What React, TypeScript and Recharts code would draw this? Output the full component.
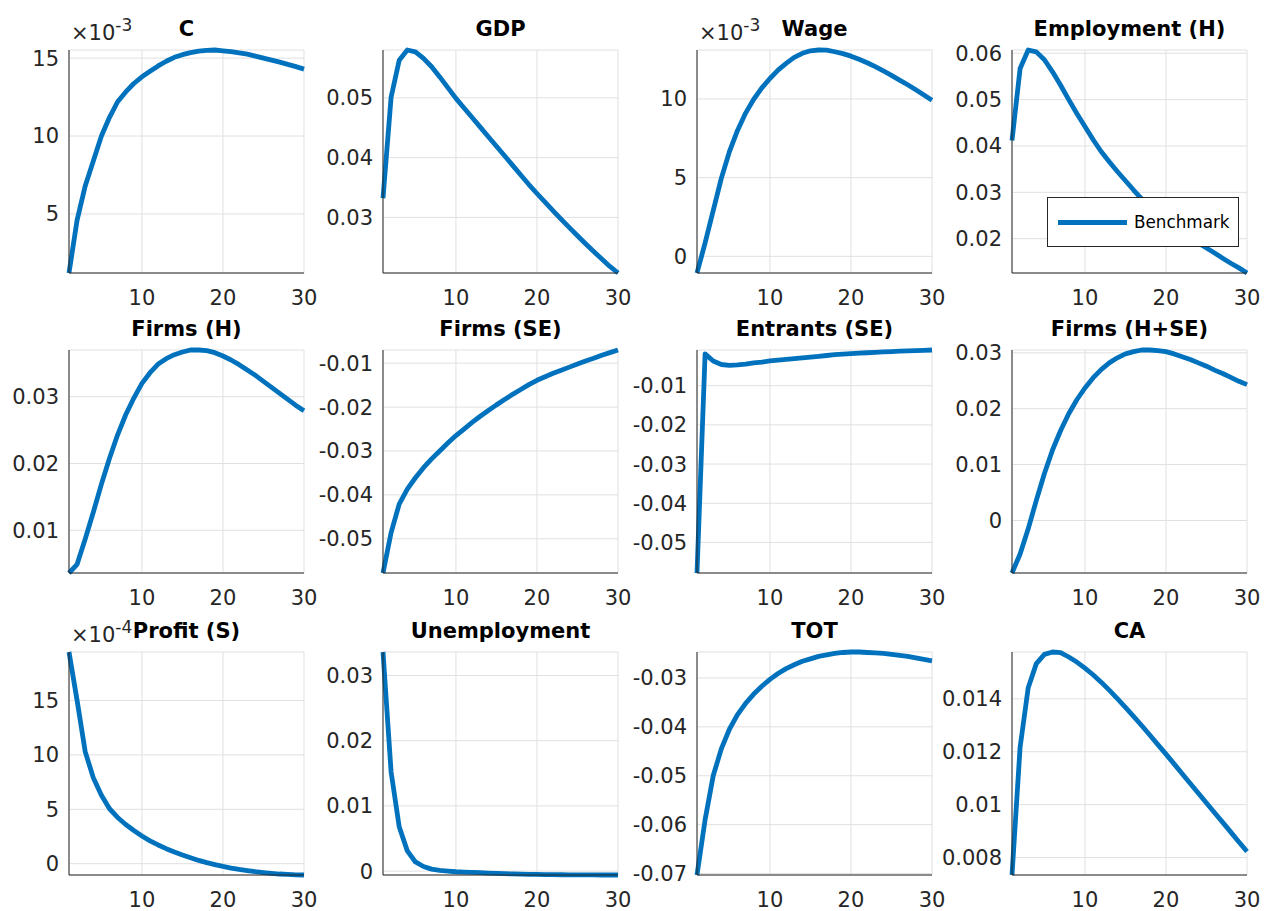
import { LineChart, Line, XAxis, YAxis, CartesianGrid } from 'recharts'

// impulse responses, periods 1..30
const periods = [1, 2, 3, 4, 5, 6, 7, 8, 9, 10, 11, 12, 13, 14, 15, 16, 17, 18, 19, 20, 21, 22, 23, 24, 25, 26, 27, 28, 29, 30]

const consumption = [0.00121, 0.0046, 0.0068, 0.0084, 0.0100, 0.0112, 0.0122, 0.01283, 0.01337, 0.0138, 0.01415, 0.0145, 0.0148, 0.01505, 0.01522, 0.01535, 0.01545, 0.0155, 0.01552, 0.01547, 0.01542, 0.01534, 0.01525, 0.01513, 0.0150, 0.01487, 0.01474, 0.0146, 0.01445, 0.01429]
const gdp = [0.0332, 0.0501, 0.0563, 0.0580, 0.0577, 0.0566, 0.0552, 0.0535, 0.0517, 0.0499, 0.0483, 0.0467, 0.0451, 0.0435, 0.0419, 0.0403, 0.0387, 0.0371, 0.0355, 0.0340, 0.03254, 0.0311, 0.02968, 0.02829, 0.02693, 0.0256, 0.0243, 0.02303, 0.0218, 0.0207]
const wage = [-0.00106, 0.00085, 0.0029, 0.00495, 0.00665, 0.0080, 0.0091, 0.00998, 0.0107, 0.0113, 0.01183, 0.01226, 0.01264, 0.0129, 0.01306, 0.01311, 0.0131, 0.0130, 0.01288, 0.01272, 0.01252, 0.0123, 0.01205, 0.01178, 0.0115, 0.0112, 0.0109, 0.01058, 0.01025, 0.00992]
const employment = [0.0412, 0.0567, 0.0607, 0.0603, 0.0586, 0.0560, 0.0531, 0.0500, 0.0470, 0.0442, 0.0414, 0.0388, 0.0366, 0.0345, 0.0325, 0.0305, 0.0286, 0.0270, 0.0255, 0.0241, 0.0228, 0.0215, 0.0203, 0.0191, 0.0180, 0.0169, 0.0158, 0.0147, 0.0137, 0.0126]
const firmsH = [0.0036, 0.0049, 0.0087, 0.0127, 0.0169, 0.0208, 0.0243, 0.0273, 0.0298, 0.0320, 0.0336, 0.0349, 0.0357, 0.0363, 0.0367, 0.0370, 0.0370, 0.0369, 0.0366, 0.0361, 0.0355, 0.0348, 0.0340, 0.0332, 0.0323, 0.0314, 0.0305, 0.0296, 0.0287, 0.0279]
const firmsSE = [-0.0578, -0.0486, -0.0421, -0.0387, -0.0361, -0.0338, -0.0318, -0.0300, -0.0282, -0.0265, -0.0250, -0.0235, -0.0221, -0.0208, -0.0195, -0.0183, -0.0171, -0.0160, -0.0149, -0.0139, -0.0131, -0.0123, -0.0116, -0.0109, -0.0102, -0.0095, -0.0089, -0.0082, -0.0076, -0.0070]
const entrantsSE = [-0.0578, -0.0019, -0.0037, -0.0046, -0.0048, -0.0047, -0.0045, -0.0042, -0.0040, -0.0037, -0.0035, -0.0033, -0.0031, -0.0029, -0.0027, -0.0025, -0.0023, -0.0021, -0.00195, -0.0018, -0.0017, -0.0016, -0.0015, -0.0014, -0.0013, -0.0012, -0.0011, -0.00105, -0.00097, -0.0009]
const firmsHSE = [-0.0094, -0.0060, -0.0015, 0.0036, 0.0084, 0.0126, 0.0161, 0.0191, 0.0216, 0.0237, 0.0255, 0.0270, 0.0282, 0.0291, 0.0298, 0.0302, 0.0305, 0.0305, 0.0304, 0.0302, 0.0298, 0.0293, 0.0288, 0.0282, 0.0276, 0.0269, 0.0263, 0.0256, 0.0249, 0.0243]
const profitS = [0.001946, 0.0015, 0.00103, 0.00079, 0.00063, 0.000505, 0.000425, 0.00036, 0.000305, 0.000255, 0.00021, 0.000172, 0.000138, 0.000107, 0.00008, 0.000055, 0.00003, 0.00001, -0.000008, -0.000025, -0.00004, -0.000053, -0.000064, -0.000074, -0.000082, -0.000089, -0.000095, -0.000099, -0.000102, -0.000104]
const unemployment = [0.0336, 0.0152, 0.0068, 0.0031, 0.0014, 0.0007, 0.0003, 0.0001, 0.0, -0.0001, -0.00015, -0.0002, -0.00025, -0.0003, -0.00035, -0.0004, -0.00043, -0.00046, -0.00049, -0.00051, -0.00053, -0.00055, -0.00056, -0.00057, -0.00058, -0.00059, -0.00059, -0.0006, -0.0006, -0.0006]
const tot = [-0.0703, -0.0590, -0.0500, -0.0445, -0.0405, -0.0375, -0.0352, -0.0333, -0.0317, -0.0303, -0.0291, -0.0281, -0.0273, -0.0266, -0.0261, -0.0256, -0.0253, -0.0250, -0.0248, -0.0247, -0.0247, -0.0248, -0.0249, -0.0250, -0.0252, -0.0254, -0.0256, -0.0259, -0.0262, -0.0265]
const ca = [0.00734, 0.01217, 0.01442, 0.01533, 0.01568, 0.01577, 0.01575, 0.01558, 0.01539, 0.01516, 0.01491, 0.01463, 0.01433, 0.01401, 0.01368, 0.01334, 0.01299, 0.01263, 0.01227, 0.01191, 0.01154, 0.01117, 0.0108, 0.01043, 0.01006, 0.00969, 0.00933, 0.00896, 0.00859, 0.00823]

const xTicks = [10, 20, 30]

const panels = [
  { title: 'C', values: consumption, yTicks: [0.005, 0.01, 0.015], exp: -3 },
  { title: 'GDP', values: gdp, yTicks: [0.03, 0.04, 0.05] },
  { title: 'Wage', values: wage, yTicks: [0, 0.005, 0.01], exp: -3 },
  { title: 'Employment (H)', values: employment, yTicks: [0.02, 0.03, 0.04, 0.05, 0.06] },
  { title: 'Firms (H)', values: firmsH, yTicks: [0.01, 0.02, 0.03] },
  { title: 'Firms (SE)', values: firmsSE, yTicks: [-0.05, -0.04, -0.03, -0.02, -0.01] },
  { title: 'Entrants (SE)', values: entrantsSE, yTicks: [-0.05, -0.04, -0.03, -0.02, -0.01] },
  { title: 'Firms (H+SE)', values: firmsHSE, yTicks: [0, 0.01, 0.02, 0.03] },
  { title: 'Profit (S)', values: profitS, yTicks: [0, 0.0005, 0.001, 0.0015], exp: -4 },
  { title: 'Unemployment', values: unemployment, yTicks: [0, 0.01, 0.02, 0.03] },
  { title: 'TOT', values: tot, yTicks: [-0.07, -0.06, -0.05, -0.04, -0.03] },
  { title: 'CA', values: ca, yTicks: [0.008, 0.01, 0.012, 0.014] },
]

const FONT = '"DejaVu Sans", "Liberation Sans", Arial, sans-serif'
const BLUE = '#0072BD'
const INK = '#262626'
const GRID = '#e0e0e0'

const colLeft = [69, 383, 697, 1012]
const rowTop = [50, 350, 652]
const PLOT_W = 235
const PLOT_H = 223
const Y_W = 72
const R_PAD = 18
const T_PAD = 14

const fmt = (exp?: number) => (v: number) =>
  exp ? String(Math.round(v / Math.pow(10, exp))) : String(parseFloat(v.toFixed(4)))

const Panel = ({ p, left, top }: { p: any; left: number; top: number }) => {
  const rows = periods.map((t, i) => ({ t, v: p.values[i] }))
  return (
    <>
      <div style={{ position: 'absolute', left: left - Y_W, top: top - T_PAD }}>
        <LineChart
          width={Y_W + PLOT_W + R_PAD}
          height={T_PAD + PLOT_H + 40}
          data={rows}
          margin={{ top: T_PAD, right: R_PAD, bottom: 0, left: 0 }}
        >
          <CartesianGrid stroke={GRID} />
          <XAxis
            dataKey="t"
            type="number"
            domain={[1, 30]}
            ticks={xTicks}
            interval={0}
            height={40}
            tickLine={false}
            tickSize={0}
            tickMargin={17}
            axisLine={{ stroke: INK }}
            tick={{ fill: INK, fontSize: 21, fontFamily: FONT }}
          />
          <YAxis
            type="number"
            domain={['dataMin', 'dataMax']}
            ticks={p.yTicks}
            interval={0}
            width={Y_W}
            tickLine={false}
            tickSize={0}
            tickMargin={10}
            axisLine={{ stroke: INK }}
            tickFormatter={fmt(p.exp)}
            tick={{ fill: INK, fontSize: 21, fontFamily: FONT }}
          />
          <Line
            type="linear"
            dataKey="v"
            stroke={BLUE}
            strokeWidth={4.8}
            strokeLinejoin="round"
            dot={false}
            activeDot={false}
            isAnimationActive={false}
          />
        </LineChart>
      </div>
      <div
        style={{
          position: 'absolute', left, top: top - 34, width: PLOT_W, textAlign: 'center',
          fontFamily: FONT, fontWeight: 'bold', fontSize: 21, lineHeight: '26px', color: '#000',
          whiteSpace: 'nowrap',
        }}
      >
        {p.title}
      </div>
      {p.exp && (
        <div
          style={{
            position: 'absolute', left: left + 2, top: top - 29, fontFamily: FONT,
            fontSize: 21, lineHeight: '24px', color: INK, whiteSpace: 'nowrap',
          }}
        >
          ×10<span style={{ fontSize: 17, position: 'relative', top: -9 }}>{p.exp}</span>
        </div>
      )}
    </>
  )
}

const App = () => {
  return (
    <div style={{ position: 'absolute', left: 0, top: 0, width: 1265, height: 911, background: '#fff' }}>
      {panels.map((p, i) => (
        <Panel key={p.title} p={p} left={colLeft[i % 4]} top={rowTop[Math.floor(i / 4)]} />
      ))}
      {/* legend sits inside the Employment (H) panel */}
      <div
        style={{
          position: 'absolute', left: 1047, top: 197, width: 190, height: 48,
          border: `1px solid ${INK}`, background: '#fff',
        }}
      >
        <svg width={80} height={48} style={{ position: 'absolute', left: 0, top: 0 }}>
          <line x1={10} y1={24.5} x2={79} y2={24.5} stroke={BLUE} strokeWidth={4.8} />
        </svg>
        <div
          style={{
            position: 'absolute', left: 86, top: 13, fontFamily: FONT, fontSize: 16.8,
            lineHeight: '22px', color: '#000', whiteSpace: 'nowrap',
          }}
        >
          Benchmark
        </div>
      </div>
    </div>
  )
}

export default App
